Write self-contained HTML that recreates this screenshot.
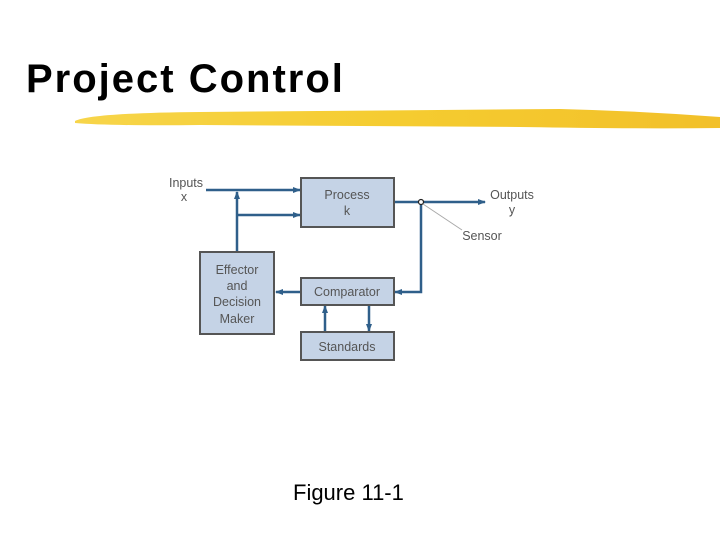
<!DOCTYPE html>
<html><head><meta charset="utf-8"><style>
html,body{margin:0;padding:0;background:#fff;width:720px;height:540px;overflow:hidden;position:relative}
.t{position:absolute;left:26px;top:59px;font:bold 40px/40px "Liberation Sans",sans-serif;color:#000;letter-spacing:2px}
.f{position:absolute;left:293px;top:480px;font:22px "Liberation Sans",sans-serif;color:#000}
</style></head><body>
<div class="t">Project Control</div>
<svg width="720" height="540" style="position:absolute;left:0;top:0">
<defs>
<linearGradient id="g" x1="0" x2="1"><stop offset="0" stop-color="#f7d54a"/><stop offset="0.5" stop-color="#f5cc30"/><stop offset="1" stop-color="#f2c02a"/></linearGradient>
<marker id="a" markerWidth="8" markerHeight="6" refX="7" refY="3" orient="auto" markerUnits="userSpaceOnUse"><path d="M0,0 L8,3 L0,6z" fill="#2f5f8a"/></marker>
</defs>
<path d="M75,121 Q90,113 200,112 L560,109 Q640,111 720,117 L720,128 Q640,129 520,127 L200,125 Q110,126 75,123z" fill="url(#g)"/>
<g stroke="#2f5f8a" stroke-width="2.5" fill="none">
<line x1="206" y1="190" x2="300" y2="190" marker-end="url(#a)"/>
<line x1="237" y1="215" x2="300" y2="215" marker-end="url(#a)"/>
<line x1="237" y1="252" x2="237" y2="192" marker-end="url(#a)"/>
<line x1="394" y1="202" x2="485" y2="202" marker-end="url(#a)"/>
<polyline points="421,202 421,292 395,292" marker-end="url(#a)"/>
<line x1="301" y1="292" x2="276" y2="292" marker-end="url(#a)"/>
<line x1="325" y1="332" x2="325" y2="306" marker-end="url(#a)"/>
<line x1="369" y1="305" x2="369" y2="331" marker-end="url(#a)"/>
</g>
<line x1="423" y1="204" x2="462" y2="230" stroke="#aaa" stroke-width="1"/>
<circle cx="421" cy="202" r="2.5" fill="#fff" stroke="#222" stroke-width="1.2"/>
<g fill="#c5d3e6" stroke="#555" stroke-width="2">
<rect x="301" y="178" width="93" height="49"/>
<rect x="200" y="252" width="74" height="82"/>
<rect x="301" y="278" width="93" height="27"/>
<rect x="301" y="332" width="93" height="28"/>
</g>
<g font-family="Liberation Sans,sans-serif" font-size="12.5" fill="#555" text-anchor="middle">
<text x="347" y="199">Process</text><text x="347" y="215">k</text>
<text x="237" y="274">Effector</text><text x="237" y="290">and</text><text x="237" y="306">Decision</text><text x="237" y="323">Maker</text>
<text x="347" y="296">Comparator</text>
<text x="347" y="351">Standards</text>
<text x="186" y="187">Inputs</text><text x="184" y="201">x</text>
<text x="512" y="199">Outputs</text><text x="512" y="214">y</text>
<text x="482" y="240">Sensor</text>
</g>
</svg>
<div class="f">Figure 11-1</div>
</body></html>
